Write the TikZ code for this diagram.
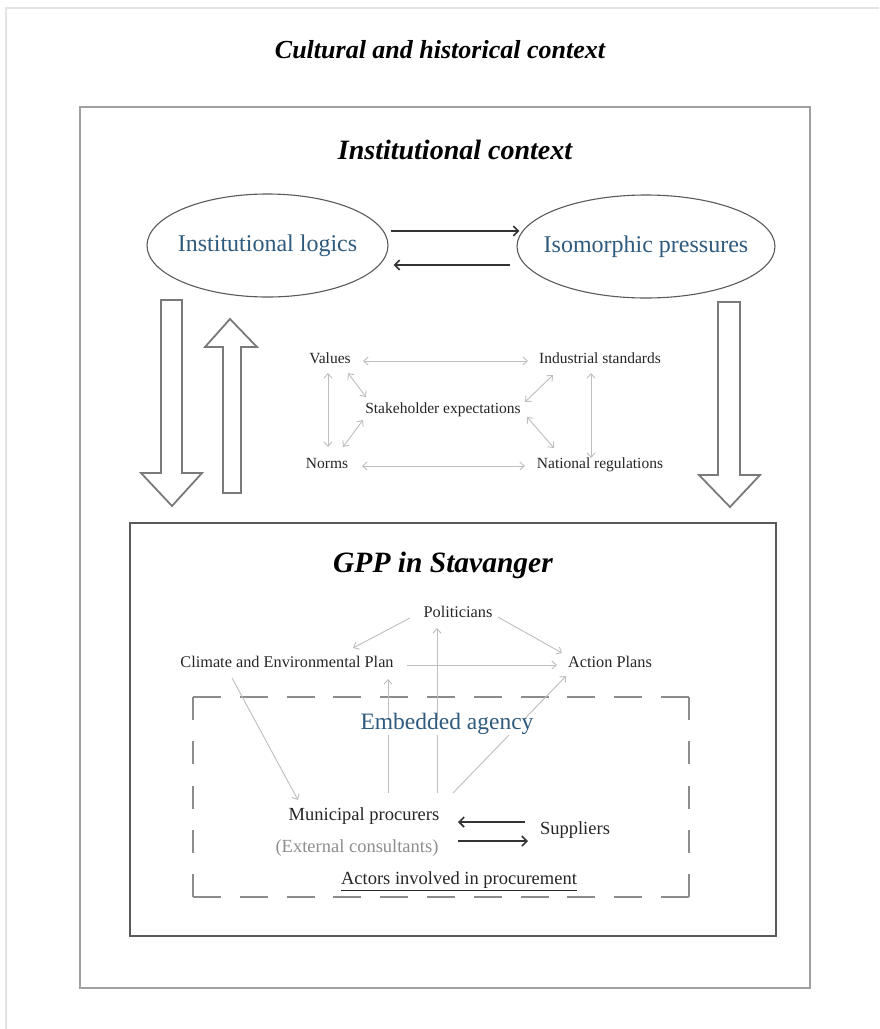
\documentclass[tikz,border=0pt]{standalone}
\usepackage{fontspec}
\setmainfont{Liberation Serif}
\usetikzlibrary{arrows.meta,shapes.geometric,calc}
\definecolor{bluetxt}{HTML}{2F5B7E}
\definecolor{txt}{HTML}{262626}
\definecolor{lgray}{HTML}{BEBEBE}
\definecolor{dgray}{HTML}{333333}
\definecolor{framegray}{HTML}{A0A0A0}
\definecolor{gppgray}{HTML}{5A5A5A}
\definecolor{dashgray}{HTML}{8C8C8C}
\definecolor{extgray}{HTML}{8E8E8E}
\definecolor{blockgray}{HTML}{7A7A7A}
\definecolor{pagegray}{HTML}{E4E4E4}
\tikzset{
  lbl/.style={inner sep=0pt, text height=0.7em, text depth=0.2em, text=txt},
  midtxt/.style={lbl, font=\fontsize{15.5}{18}\selectfont},
  gpptxt/.style={lbl, font=\fontsize{16.3}{19}\selectfont},
  acttxt/.style={lbl, font=\fontsize{18.5}{22}\selectfont},
  titletxt/.style={inner sep=0pt, text=black, font=\fontsize{#1}{32}\selectfont\bfseries\itshape},
  ellnode/.style={ellipse, draw=gppgray, line width=1.1pt, inner sep=0pt, text=bluetxt, font=\fontsize{24}{28}\selectfont},
  garrow/.style={draw=lgray, line width=0.9pt, -{Straight Barb[length=4.5pt,width=8pt]}},
  gboth/.style={draw=lgray, line width=0.9pt, {Straight Barb[length=4.5pt,width=8pt]}-{Straight Barb[length=4.5pt,width=8pt]}},
  darrow/.style={draw=dgray, line width=1.6pt, -{Straight Barb[length=5pt,width=10pt]}},
  blockarrow/.style={draw=blockgray, line width=1.8pt, fill=white, line join=miter},
}
\begin{document}
\begin{tikzpicture}[x=1pt,y=-1pt]
\useasboundingbox (0,0) rectangle (879,1029);
\fill[white] (0,0) rectangle (879,1029);
% faint page frame
\draw[pagegray, line width=1.5pt] (6,1029) -- (6,8) -- (879,8);

% outer titled box
\node[titletxt=26] (tcult) at (440,50) {Cultural and historical context};
\draw[framegray, line width=2pt] (80,107) rectangle (810,988);
\node[titletxt=28] (tinst) at (455,150) {Institutional context};

% ellipses
\node[ellnode, minimum width=241pt, minimum height=103pt] (logics) at (267.5,245.5) {\makebox[0pt]{Institutional logics}};
\node[ellnode, minimum width=258pt, minimum height=103pt] (iso) at (646,246.5) {\makebox[0pt]{Isomorphic pressures}};
\draw[darrow] ($(logics.east)+(2,-14.5)$) -- ($(iso.west)+(3,-15.5)$);
\draw[darrow] ($(iso.west)+(-6,18.5)$) -- ($(logics.east)+(5,19.5)$);

% block arrows
\draw[blockarrow] (161,300) -- (182,300) -- (182,473) -- (202,473) -- (172,506) -- (141,473) -- (161,473) -- cycle;
\draw[blockarrow] (223,493) -- (241,493) -- (241,347) -- (257,347) -- (230,319) -- (205,347) -- (223,347) -- cycle;
\draw[blockarrow] (718,302) -- (740,302) -- (740,475) -- (760,475) -- (730,507) -- (699,475) -- (718,475) -- cycle;

% middle block
\node[midtxt] (val) at (330,361) {Values};
\node[midtxt] (ind) at (600,361) {Industrial standards};
\node[midtxt] (stk) at (443,411) {Stakeholder expectations};
\node[midtxt] (nrm) at (327,466) {Norms};
\node[midtxt] (nat) at (600,466) {National regulations};
\draw[gboth] ($(val)+(33,0)$) -- ($(ind)+(-72,0)$);
\draw[gboth] ($(nrm)+(35,0)$) -- ($(nat)+(-75,0)$);
\draw[gboth] ($(val)+(-2,12)$) -- ($(nrm)+(1,-19)$);
\draw[gboth] ($(ind)+(-9,12)$) -- ($(nat)+(-9,-8)$);
\draw[gboth] ($(val)+(18,12)$) -- ($(stk)+(-77,-14)$);
\draw[gboth] ($(nrm)+(16,-19)$) -- ($(stk)+(-80,9)$);
\draw[gboth] ($(ind)+(-47,14)$) -- ($(stk)+(82,-9)$);
\draw[gboth] ($(nat)+(-46,-18)$) -- ($(stk)+(84,6)$);

% GPP box
\draw[gppgray, line width=2pt] (130,523) rectangle (776,936);
\node[titletxt=29.5] (tgpp) at (443,565) {GPP in Stavanger};

% dashed box
\begin{scope}[dashgray, line width=2.3pt]
  \draw[dash pattern=on 28pt off 18.8pt] (193,697) -- (689,697);
  \draw[dash pattern=on 28pt off 18.8pt] (193,897) -- (689,897);
  \draw[dash pattern=on 23pt off 21.25pt] (193,697) -- (193,897);
  \draw[dash pattern=on 23pt off 21.25pt] (689,697) -- (689,897);
\end{scope}

\node[gpptxt] (pol) at (458,615) {Politicians};
\node[gpptxt] (cep) at (287,665) {Climate and Environmental Plan};
\node[gpptxt] (act) at (610,665) {Action Plans};
\node[acttxt] (mun) at (364,818) {Municipal procurers};
\node[acttxt, text=extgray] (ext) at (357,850) {(External consultants)};
\node[acttxt] (sup) at (575,832) {Suppliers};
\node[acttxt] (actors) at (459,882) {\underline{Actors involved in procurement}};

\draw[garrow] ($(pol)+(-48,3)$) -- ($(cep)+(66,-17)$);
\draw[garrow] ($(pol)+(40,2)$) -- ($(act)+(-48,-12)$);
\draw[garrow] ($(cep)+(120,0)$) -- ($(act)+(-53,0)$);
\draw[garrow] ($(mun)+(24,-25)$) -- ($(cep)+(101,14)$);
\draw[garrow] ($(mun)+(73,-25)$) -- ($(pol)+(-21,13)$);
\draw[garrow] ($(mun)+(89,-25)$) -- ($(act)+(-44,11)$);
\draw[garrow] ($(cep)+(-55,13)$) -- ($(mun)+(-66,-18)$);

\node[lbl, fill=white, inner xsep=2pt, inner ysep=3pt, text=bluetxt, font=\fontsize{23.5}{28}\selectfont] (emb) at (447,727) {Embedded agency};

\draw[darrow] ($(sup)+(-50,-10)$) -- ($(mun)+(94,4)$);
\draw[darrow] ($(mun)+(94,23)$) -- ($(sup)+(-47,9)$);
\end{tikzpicture}
\end{document}
